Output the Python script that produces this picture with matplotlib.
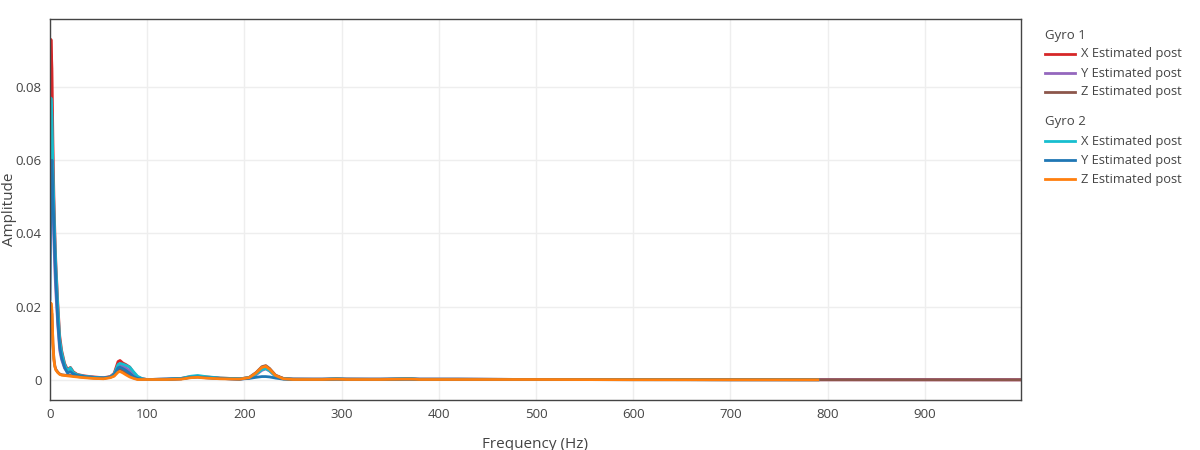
import matplotlib
matplotlib.use("Agg")
import matplotlib.pyplot as plt
from matplotlib.lines import Line2D
from matplotlib.ticker import FuncFormatter, MultipleLocator

plt.rcParams["font.family"] = ["Open Sans", "DejaVu Sans"]

# frequency grid (Hz)
freq_g1 = [0, 1, 2, 3, 4, 5, 6, 8, 10, 12, 15, 18, 21, 24, 28, 35, 45, 55, 62, 66,
           70, 72, 75, 78, 82, 86, 90, 95, 100, 120, 135, 145, 152, 160, 175, 195,
           205, 212, 218, 222, 226, 232, 240, 250, 280, 295, 305, 340, 365, 372,
           380, 420, 500, 600, 700, 790, 900, 1000]
freq_g2 = freq_g1[:56]

x_g1 = [0.077, 0.093, 0.085, 0.065, 0.050, 0.040, 0.032, 0.021, 0.012, 0.008, 0.0045, 0.0028,
        0.0034, 0.0022, 0.0015, 0.0011, 0.0008, 0.0006, 0.0009, 0.0018, 0.0050, 0.0053, 0.0046,
        0.0042, 0.0035, 0.0020, 0.0008, 0.0003, 0.0001, 0.0002, 0.0004, 0.0009, 0.0010, 0.0008,
        0.0005, 0.0003, 0.0006, 0.0016, 0.0030, 0.0034, 0.0027, 0.0011, 0.0004, 0.0002, 0.0002,
        0.0003, 0.0002, 0.0002, 0.0003, 0.0003, 0.0002, 0.0002, 0.0001, 0.0001, 0.00005, 0.00004,
        0.00003, 0.00002]
y_g1 = [0.050, 0.062, 0.058, 0.048, 0.038, 0.030, 0.024, 0.015, 0.008, 0.0055, 0.0032, 0.0020,
        0.0025, 0.0018, 0.0013, 0.0010, 0.0007, 0.0005, 0.0008, 0.0015, 0.0038, 0.0042, 0.0038,
        0.0033, 0.0025, 0.0013, 0.0005, 0.0002, 0.0001, 0.0002, 0.0003, 0.0007, 0.0008, 0.0006,
        0.0004, 0.0002, 0.0005, 0.0014, 0.0026, 0.0030, 0.0024, 0.0010, 0.0003, 0.0002, 0.0002,
        0.0003, 0.0002, 0.0002, 0.0003, 0.0003, 0.0002, 0.0002, 0.0001, 0.0001, 0.00005, 0.00004,
        0.00003, 0.00002]
z_g1 = [0.014, 0.019, 0.018, 0.010, 0.0058, 0.0038, 0.0029, 0.0021, 0.0016, 0.0014, 0.0013, 0.0012,
        0.0012, 0.0011, 0.0009, 0.0007, 0.0005, 0.0004, 0.0007, 0.0012, 0.0028, 0.0030, 0.0026,
        0.0020, 0.0013, 0.0006, 0.0002, 0.0001, 0.0001, 0.0001, 0.0003, 0.0008, 0.0009, 0.0007,
        0.0004, 0.0002, 0.0007, 0.0020, 0.0036, 0.0039, 0.0031, 0.0013, 0.0004, 0.0002, 0.0001,
        0.0002, 0.0002, 0.0001, 0.0002, 0.0002, 0.0001, 0.0001, 0.0001, 0.00005, 0.00004, 0.00003,
        0.00003, 0.00002]
x_g2 = [0.060, 0.077, 0.072, 0.058, 0.047, 0.038, 0.031, 0.020, 0.011, 0.0075, 0.0042, 0.0025,
        0.0033, 0.0020, 0.0014, 0.0010, 0.0007, 0.0005, 0.0008, 0.0016, 0.0042, 0.0045, 0.0043,
        0.0040, 0.0035, 0.0022, 0.0010, 0.0003, 0.0001, 0.0002, 0.0004, 0.0010, 0.0012, 0.0009,
        0.0005, 0.0003, 0.0006, 0.0016, 0.0028, 0.0031, 0.0025, 0.0010, 0.0003, 0.0002, 0.0002,
        0.0003, 0.0002, 0.0002, 0.0003, 0.0003, 0.0002, 0.0002, 0.0001, 0.0001, 0.00005, 0.00004]
y_g2 = [0.022, 0.055, 0.060, 0.050, 0.042, 0.034, 0.027, 0.016, 0.009, 0.006, 0.0034, 0.0019,
        0.0022, 0.0016, 0.0012, 0.0009, 0.0006, 0.0005, 0.0008, 0.0014, 0.0033, 0.0035, 0.0031,
        0.0026, 0.0018, 0.0009, 0.0004, 0.0002, 0.0001, 0.0002, 0.0003, 0.0007, 0.0008, 0.0006,
        0.0004, 0.0002, 0.0004, 0.0007, 0.0009, 0.0009, 0.0008, 0.0005, 0.0002, 0.0001, 0.0001,
        0.0002, 0.0001, 0.0001, 0.0002, 0.0002, 0.0001, 0.0001, 0.0001, 0.00005, 0.00004, 0.00003]
z_g2 = [0.015, 0.021, 0.019, 0.010, 0.0055, 0.0036, 0.0027, 0.0020, 0.0015, 0.0013, 0.0012, 0.0011,
        0.0010, 0.0009, 0.0008, 0.0006, 0.0004, 0.0003, 0.0006, 0.0010, 0.0021, 0.0023, 0.0019,
        0.0014, 0.0008, 0.0004, 0.0001, 0.0001, 0.0001, 0.0001, 0.0002, 0.0006, 0.0007, 0.0005,
        0.0003, 0.0002, 0.0006, 0.0019, 0.0034, 0.0037, 0.0029, 0.0012, 0.0003, 0.0001, 0.0001,
        0.0002, 0.0001, 0.0001, 0.0002, 0.0002, 0.0001, 0.0001, 0.0001, 0.00005, 0.00004, 0.00003]

groups = ["Gyro 1", "Gyro 2"]
labels = ["X Estimated post", "Y Estimated post", "Z Estimated post"]
series = [
    (freq_g1, [x_g1, y_g1, z_g1], ["#d62728", "#9467bd", "#8c564b"]),
    (freq_g2, [x_g2, y_g2, z_g2], ["#17becf", "#1f77b4", "#ff7f0e"]),
]

text_color = "#444444"
fig = plt.figure(figsize=(12, 4.5), dpi=100)
ax = fig.add_axes([50 / 1200, 50 / 450, 971 / 1200, 381 / 450])

for freqs, amps, colors in series:
    for amp, color in zip(amps, colors):
        ax.plot(freqs, amp, color=color, linewidth=2, solid_joinstyle="round")

ax.set_xlim(0, 999)
ax.set_ylim(-0.0055, 0.0986)
ax.xaxis.set_major_locator(MultipleLocator(100))
ax.yaxis.set_major_locator(MultipleLocator(0.02))
ax.yaxis.set_major_formatter(FuncFormatter(lambda v, p: "%g" % round(v, 4)))
ax.grid(True, color="#eeeeee", linewidth=1)
ax.set_axisbelow(True)
ax.tick_params(length=0, labelsize=9.5, colors=text_color, pad=6)
for spine in ax.spines.values():
    spine.set_color("#444444")
    spine.set_linewidth(1)
ax.set_xlabel("Frequency (Hz)", fontsize=11, color=text_color)
ax.set_ylabel("Amplitude", fontsize=11, color=text_color)
ax.xaxis.set_label_coords(0.5, -44 / 381)
ax.yaxis.set_label_coords(-40 / 971, 0.5)
ax.xaxis.label.set_va("center")
ax.yaxis.label.set_va("center")

# plotly-style grouped legend
y_px = 35
for (freqs, amps, colors), group in zip(series, groups):
    fig.text(1045 / 1200, 1 - y_px / 450, group, fontsize=9.5, color=text_color, va="center")
    y_px += 19
    for color, label in zip(colors, labels):
        yy = 1 - y_px / 450
        fig.add_artist(Line2D([1045 / 1200, 1075 / 1200], [yy, yy], color=color, linewidth=2,
                              transform=fig.transFigure))
        fig.text(1081 / 1200, yy, label, fontsize=9.3, color=text_color, va="center")
        y_px += 19
    y_px += 11

fig.savefig("out.png", dpi=100)
